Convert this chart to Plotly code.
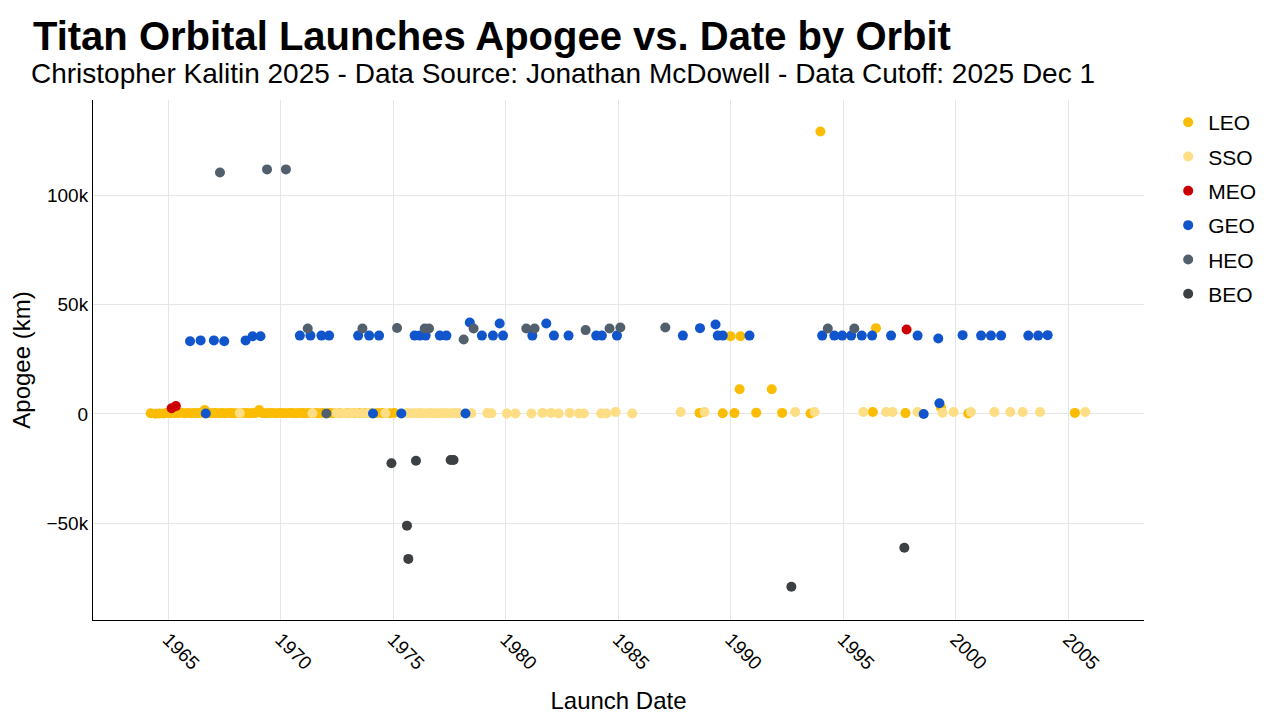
import pandas as pd
import plotly.graph_objects as go

# launch dates as decimal years, apogee in km, one pair of lists per orbit class
leo_years = [1964.22, 1964.45, 1964.62, 1964.80, 1964.95, 1965.10, 1965.28, 1965.42, 1965.58,
             1965.72, 1965.88, 1966.02, 1966.18, 1966.35, 1966.50, 1966.62, 1966.78, 1966.92,
             1967.08, 1967.22, 1967.38, 1967.52, 1967.68, 1967.82, 1967.98, 1968.12, 1968.32,
             1968.48, 1968.62, 1968.78, 1968.92, 1969.04, 1969.18, 1969.32, 1969.48, 1969.62,
             1969.78, 1969.92, 1970.08, 1970.22, 1970.38, 1970.52, 1970.68, 1970.82, 1970.98,
             1971.12, 1971.28, 1971.55, 1971.70, 1971.86, 1972.18, 1972.34, 1972.62, 1972.95,
             1973.25, 1973.50, 1973.75, 1974.00, 1974.30, 1974.52, 1974.85, 1975.05,
             1988.61, 1989.64, 1989.99, 1990.16, 1990.39, 1990.43, 1991.13, 1991.82, 1992.28,
             1993.54, 1993.98, 1996.31, 1996.45, 1997.76, 1999.34, 2000.55, 2005.29]
leo_apogee = [300, 150, 250, 200, 500, 300, 400, 350, 600, 300, 450, 300, 500, 400, 600, 1800,
              400, 300, 500, 350, 400, 300, 450, 400, 350, 300, 500, 400, 350, 450, 600, 1800,
              400, 350, 500, 400, 300, 450, 400, 350, 500, 400, 300, 450, 400, 350, 500, 400,
              300, 450, 400, 350, 500, 400, 300, 450, 400, 350, 500, 400, 300, 450,
              500, 300, 35500, 400, 11300, 35500, 600, 11300, 500,
              200, 129000, 900, 39200, 400, 3000, 200, 500]

sso_years = [1968.18, 1971.41, 1972.48, 1972.70, 1972.92, 1973.15, 1973.38, 1973.62, 1973.85,
             1974.65, 1975.62, 1975.80, 1975.98, 1976.15, 1976.32, 1976.50, 1976.68, 1976.85,
             1977.02, 1977.20, 1977.38, 1977.55, 1977.72, 1977.90, 1978.47, 1979.18, 1979.36,
             1980.05, 1980.43, 1981.14, 1981.63, 1982.02, 1982.35, 1982.84, 1983.25, 1983.47,
             1984.24, 1984.47, 1984.88, 1985.62, 1987.77, 1988.83, 1992.86, 1993.72, 1995.89,
             1996.90, 1997.19, 1998.30, 1999.41, 1999.90, 2000.67, 2001.71, 2002.42, 2002.97,
             2003.74, 2005.75]
sso_apogee = [400, 300, 400, 300, 350, 400, 300, 350, 400, 300, 400, 350, 300, 400, 350, 300,
              400, 350, 300, 400, 350, 300, 400, 350, 300, 400, 300, 200, 200, 200, 500, 500,
              200, 500, 200, 200, 200, 200, 900, 200, 900, 900, 900, 900, 900,
              900, 900, 900, 600, 900, 900, 900, 900, 900, 900, 900]

meo_years = [1965.15, 1965.34, 1997.81]
meo_apogee = [2600, 3600, 38600]

geo_years = [1965.97, 1966.44, 1966.67, 1967.03, 1967.49, 1968.44, 1968.75, 1969.10, 1970.85,
             1971.32, 1971.81, 1972.15, 1973.44, 1973.93, 1974.10, 1974.37, 1975.36, 1975.95,
             1976.18, 1976.44, 1977.07, 1977.36, 1978.21, 1978.40, 1978.94, 1979.43, 1979.73,
             1979.88, 1981.18, 1981.80, 1982.14, 1982.79, 1984.02, 1984.27, 1984.94, 1987.87,
             1988.63, 1989.32, 1989.42, 1989.64, 1990.83, 1994.06, 1994.60, 1994.95, 1995.35,
             1995.82, 1996.28, 1997.12, 1998.30, 1998.57, 1999.22, 1999.27, 2000.30, 2001.12,
             2001.56, 2002.01, 2003.22, 2003.66, 2004.08]
geo_apogee = [33200, 33600, 200, 33600, 33200, 33600, 35500, 35500, 35800,
              35800, 35800, 35800, 35800, 35800, 200, 35800, 200, 35800,
              35800, 35800, 35800, 35800, 200, 41800, 35800, 35800, 41300,
              35800, 35800, 41300, 35800, 35800, 35800, 35800, 35800, 35800,
              39200, 40900, 35800, 35800, 35800, 35800, 35800, 35800, 35800,
              35800, 35800, 35800, 35800, 0, 34500, 4900, 36000, 35800,
              35800, 35800, 35800, 35800, 36000]

heo_years = [1967.30, 1969.39, 1970.23, 1971.20, 1972.03, 1973.63, 1975.17, 1976.40, 1976.59,
             1978.13, 1978.57, 1980.91, 1981.28, 1983.55, 1984.61, 1985.09, 1987.09, 1994.31,
             1995.49]
heo_apogee = [110300, 111700, 111700, 39000, 200, 39000, 39300, 39000, 39000,
              34000, 39000, 39000, 39000, 38300, 39000, 39500, 39500, 39000, 39000]

beo_years = [1974.92, 1975.61, 1975.67, 1976.01, 1977.55, 1977.68, 1992.69, 1997.71]
beo_apogee = [-22500, -51000, -66200, -21400, -21000, -21000, -78900, -61100]

orbits = ['LEO', 'SSO', 'MEO', 'GEO', 'HEO', 'BEO']
colors = ['#FBBC04', '#FDDE84', '#CC0000', '#1155CC', '#52606D', '#3C4043']
series = [(leo_years, leo_apogee), (sso_years, sso_apogee), (meo_years, meo_apogee),
          (geo_years, geo_apogee), (heo_years, heo_apogee), (beo_years, beo_apogee)]

title = 'Titan Orbital Launches Apogee vs. Date by Orbit'
subtitle = 'Christopher Kalitin 2025 - Data Source: Jonathan McDowell - Data Cutoff: 2025 Dec 1'


def to_date(y):
    # decimal year -> timestamp
    start = pd.Timestamp(year=int(y), month=1, day=1)
    end = pd.Timestamp(year=int(y) + 1, month=1, day=1)
    return start + (end - start) * (y - int(y))


fig = go.Figure()
for name, color, (years, apogee) in zip(orbits, colors, series):
    fig.add_trace(go.Scatter(
        x=[to_date(y) for y in years],
        y=apogee,
        mode='markers',
        name=name,
        legendgroup=name,
        marker=dict(color=color, size=10),
    ))

fig.update_layout(
    width=1280, height=720,
    font=dict(family='Liberation Sans, Arial, sans-serif', color='#000000'),
    paper_bgcolor='white', plot_bgcolor='white',
    margin=dict(l=85, r=144, t=92, b=108),
    title=dict(
        text='<b>' + title + '</b>',
        font=dict(size=40),
        x=0.0195, xanchor='left', xref='container',
        y=0.9806, yanchor='top', yref='container',
    ),
    legend=dict(font=dict(size=21), x=1.023, y=0.996, yanchor='top', tracegroupgap=4),
)
# subtitle line under the title
fig.add_annotation(
    text=subtitle, font=dict(size=28),
    xref='paper', yref='paper', x=-0.0605, y=1.05,
    xanchor='left', yanchor='middle', showarrow=False,
)
fig.update_xaxes(
    title=dict(text='Launch Date', font=dict(size=24), standoff=19),
    range=['1961-08-29', '2008-05-12'],
    dtick='M60', tick0='1965-01-01', tickformat='%Y', tickangle=45,
    tickfont=dict(size=19),
    showgrid=True, gridcolor='#E6E6E6',
    showline=True, linecolor='black', linewidth=1,
    zeroline=False, automargin=False,
)
fig.update_yaxes(
    title=dict(text='Apogee (km)', font=dict(size=24), standoff=16),
    range=[-94100, 143400],
    tickfont=dict(size=19),
    showgrid=True, gridcolor='#E6E6E6',
    showline=True, linecolor='black', linewidth=1,
    zeroline=False, automargin=False,
)

fig.write_html('out.html')
